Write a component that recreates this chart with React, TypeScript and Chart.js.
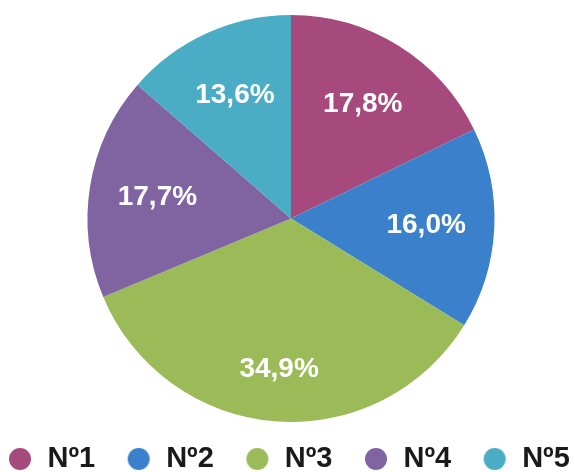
import React, { useEffect, useRef } from "react";
import { Chart, registerables } from "chart.js";

Chart.register(...registerables);

const categories = ["Nº1", "Nº2", "Nº3", "Nº4", "Nº5"];
const shares = [17.8, 16.0, 34.9, 17.7, 13.6];
const sliceColors = ["#A64A7E", "#3B80CB", "#9BBB59", "#8064A2", "#4AACC5"];

const FONT = "'Liberation Sans', Arial, sans-serif";

function fmt(v: number) {
  return v.toFixed(1).replace(".", ",") + "%";
}

function makeDot(color: string) {
  const c = document.createElement("canvas");
  c.width = 34;
  c.height = 22;
  const g = c.getContext("2d")!;
  g.fillStyle = color;
  g.beginPath();
  g.arc(21, 11, 11, 0, Math.PI * 2);
  g.fill();
  return c;
}

const sliceLabelPlugin = {
  id: "sliceLabels",
  afterDatasetsDraw(chart: any, _args: any, opts: any) {
    const ctx = chart.ctx;
    const meta = chart.getDatasetMeta(0);
    const data = chart.data.datasets[0].data as number[];
    ctx.save();
    ctx.font = `bold ${opts.size}px ${FONT}`;
    ctx.fillStyle = "#ffffff";
    ctx.textAlign = "center";
    ctx.textBaseline = "middle";
    meta.data.forEach((arc: any, i: number) => {
      const p = arc.getProps(["x", "y", "startAngle", "endAngle", "outerRadius"], true);
      const mid = (p.startAngle + p.endAngle) / 2;
      const f = data[i] > 30 ? opts.bigFactor : opts.factor;
      const x = p.x + Math.cos(mid) * p.outerRadius * f;
      const y = p.y + Math.sin(mid) * p.outerRadius * f;
      ctx.fillText(fmt(data[i]), x, y);
    });
    ctx.restore();
  },
};

export default function App() {
  const ref = useRef<HTMLCanvasElement>(null);
  useEffect(() => {
    if (!ref.current) return;
    const dots = sliceColors.map(makeDot);
    const chart = new Chart(ref.current, {
      type: "pie",
      data: {
        labels: categories,
        datasets: [
          {
            data: shares,
            backgroundColor: sliceColors,
            borderWidth: 0,
          },
        ],
      },
      options: {
        animation: false,
        responsive: false,
        events: [],
        layout: { padding: { top: 15, left: 5.5, right: 5.5, bottom: 0 } },
        plugins: {
          tooltip: { enabled: false },
          legend: {
            position: "bottom",
            align: "start",
            maxHeight: 50,
            labels: {
              usePointStyle: true,
              pointStyleWidth: 34,
              padding: 22.5,
              color: "#1a1a1a",
              font: { size: 29, weight: "bold", family: FONT },
              generateLabels: () =>
                categories.map((t, i) => ({
                  text: t,
                  fillStyle: sliceColors[i],
                  strokeStyle: sliceColors[i],
                  lineWidth: 0,
                  pointStyle: dots[i] as any,
                  hidden: false,
                  index: i,
                  fontColor: "#1a1a1a",
                })),
            },
          },
          sliceLabels: { size: 28, factor: 0.665, bigFactor: 0.745 },
        } as any,
      },
      plugins: [sliceLabelPlugin],
    });
    return () => chart.destroy();
  }, []);
  return (
    <div
      style={{
        position: "fixed",
        left: 0,
        top: 0,
        width: 575,
        height: 472,
        overflow: "hidden",
        background: "#ffffff",
      }}
    >
      <div style={{ position: "absolute", left: -29, top: 0, width: 640, height: 472 }}>
        <canvas ref={ref} width={640} height={472} style={{ display: "block" }} />
      </div>
    </div>
  );
}
